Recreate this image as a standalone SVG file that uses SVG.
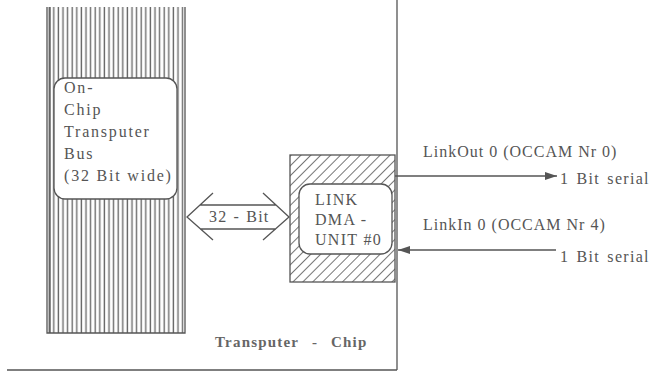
<svg xmlns="http://www.w3.org/2000/svg" width="650" height="374" viewBox="0 0 650 374">
<style>
.t{font-family:"Liberation Serif","Times New Roman",serif;font-size:16px;fill:#555;}
.ln{stroke:#555;stroke-width:1.3;fill:none;}
.box{fill:#fff;stroke:#555;stroke-width:1.3;}
</style>
<defs>
<pattern id="vstripe" patternUnits="userSpaceOnUse" x="47" y="0" width="4.6" height="10">
<rect x="1.5" y="0" width="1.4" height="10" fill="#6a6a6a"/>
</pattern>
<pattern id="diag" patternUnits="userSpaceOnUse" width="7" height="7" patternTransform="rotate(45)">
<rect x="0" y="0" width="0.9" height="7" fill="#666"/>
</pattern>
<marker id="ah" viewBox="0 0 12 8" refX="12" refY="4" markerWidth="12" markerHeight="8" markerUnits="userSpaceOnUse" orient="auto">
<path d="M0,0 L12,4 L0,8 Z" fill="#555"/>
</marker>
</defs>
<g id="chip">
<path class="ln" d="M397,0 V370 M7,370 H397"/>
<text class="t" x="215" y="347" style="font-weight:bold;font-size:15px;fill:#666;letter-spacing:1.2px;word-spacing:8px">Transputer - Chip</text>
</g>
<g id="bus">
<rect x="47" y="7" width="138" height="326" fill="url(#vstripe)"/>
<path class="ln" d="M47,7 V333 H185 V7 M50,7 V333"/>
<rect class="box" x="54" y="78" width="123" height="121" rx="11"/>
<text class="t" style="letter-spacing:1.8px">
<tspan x="64" y="93">On-</tspan>
<tspan x="64" y="115">Chip</tspan>
<tspan x="64" y="137">Transputer</tspan>
<tspan x="64" y="159">Bus</tspan>
<tspan x="64" y="181">(32 Bit wide)</tspan>
</text>
</g>
<g id="dma">
<rect x="290" y="155" width="105" height="127" fill="url(#diag)" stroke="#555" stroke-width="1.3"/>
<rect class="box" x="299" y="184" width="93" height="70" rx="11"/>
<text class="t" style="letter-spacing:1.3px">
<tspan x="315" y="205">LINK</tspan>
<tspan x="315" y="225">DMA -</tspan>
<tspan x="315" y="245">UNIT #0</tspan>
</text>
</g>
<g id="connectors">
<path class="ln" d="M213,193 L187,217 L213,240 M263,193 L289,217 L263,240 M200,205 H276 M200,229 H276"/>
<text class="t" x="209" y="222" style="letter-spacing:1.2px;word-spacing:1px">32 - Bit</text>
<line class="ln" x1="395" y1="176" x2="557" y2="176" marker-end="url(#ah)"/>
<line class="ln" x1="556" y1="250" x2="398" y2="250" marker-end="url(#ah)"/>
<text class="t" x="423" y="157" style="letter-spacing:1px">LinkOut 0 (OCCAM Nr 0)</text>
<text class="t" x="560" y="184" style="letter-spacing:1.3px;word-spacing:2px">1 Bit serial</text>
<text class="t" x="423" y="230" style="letter-spacing:1px">LinkIn 0 (OCCAM Nr 4)</text>
<text class="t" x="560" y="262" style="letter-spacing:1.3px;word-spacing:2px">1 Bit serial</text>
</g>
</svg>
